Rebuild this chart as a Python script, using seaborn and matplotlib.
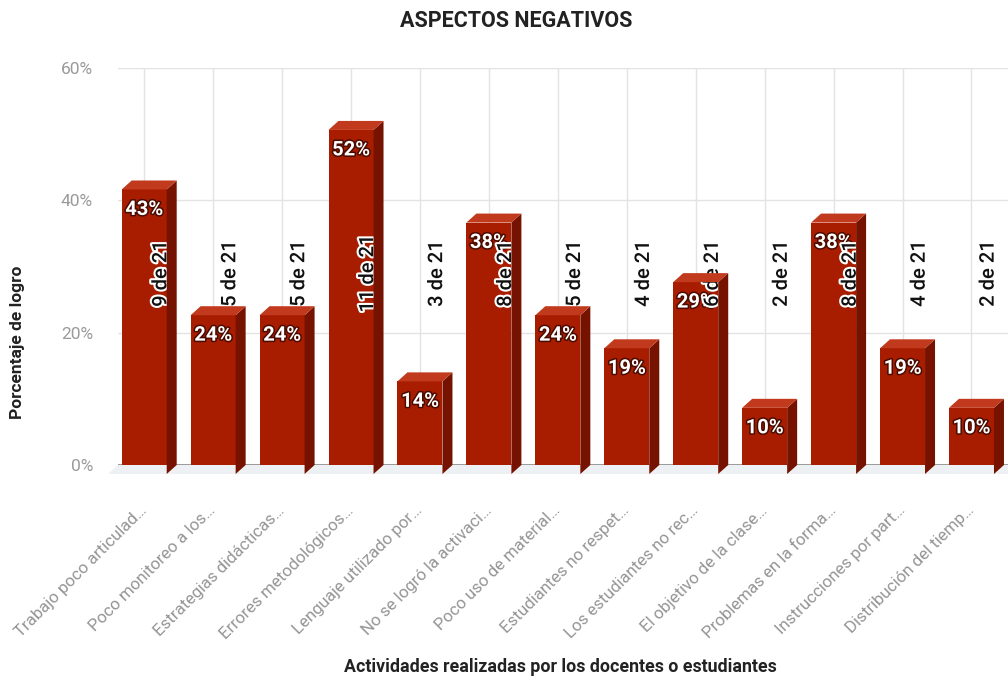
import numpy as np
import pandas as pd
import matplotlib
matplotlib.use("Agg")
import matplotlib.pyplot as plt
import seaborn as sns
from matplotlib.patches import Polygon
from matplotlib.transforms import ScaledTranslation, IdentityTransform
import matplotlib.patheffects as pe

categories = [
    "Trabajo poco articulad…",
    "Poco monitoreo a los…",
    "Estrategias didácticas…",
    "Errores metodológicos…",
    "Lenguaje utilizado por…",
    "No se logró la activaci…",
    "Poco uso de material…",
    "Estudiantes no respet…",
    "Los estudiantes no rec…",
    "El objetivo de la clase…",
    "Problemas en la forma…",
    "Instrucciones por part…",
    "Distribución del tiemp…",
]
percentages = [43, 24, 24, 52, 14, 38, 24, 19, 29, 10, 38, 19, 10]
counts = [9, 5, 5, 11, 3, 8, 5, 4, 6, 2, 8, 4, 2]
total = 21

title = "ASPECTOS NEGATIVOS"
xlabel = "Actividades realizadas por los docentes o estudiantes"
ylabel = "Porcentaje de logro"

FRONT = "#a81c00"
SIDE = "#761200"
TOP = "#c23a1e"

sns.set_theme(style="white")
plt.rcParams["font.family"] = ["Roboto", "DejaVu Sans"]

W, H = 1008, 677
fig = plt.figure(figsize=(W / 100, H / 100), dpi=100)
ax = fig.add_axes([118 / W, 1 - 465 / H, (1008 - 118) / W, (465 - 68) / H])

df = pd.DataFrame({"cat": categories, "pct": percentages})
sns.barplot(data=df, x="cat", y="pct", color=FRONT, saturation=1, width=0.653, ax=ax, zorder=3)

ax.set_xlim(-0.38, 12.53)
ax.set_ylim(0, 60)

DX, DY = 10, 9  # depth in pixels (to back plane: +DX right, +DY up)

shift = ScaledTranslation(0, -DY / 100, fig.dpi_scale_trans)
fig.canvas.draw()
for p in ax.patches:
    p.set_edgecolor("none")
    x0, y0 = p.get_x(), p.get_y()
    w, h = p.get_width(), p.get_height()
    (fx0, fy0) = ax.transData.transform((x0, y0))
    (fx1, fy1) = ax.transData.transform((x0 + w, y0 + h))
    fy0 -= DY
    fy1 -= DY
    p.set_transform(ax.transData + shift)
    side = Polygon([(fx1, fy0), (fx1 + DX, fy0 + DY), (fx1 + DX, fy1 + DY), (fx1, fy1)],
                   closed=True, facecolor=SIDE, edgecolor="none", transform=IdentityTransform(), zorder=3)
    top = Polygon([(fx0, fy1), (fx1, fy1), (fx1 + DX, fy1 + DY), (fx0 + DX, fy1 + DY)],
                  closed=True, facecolor=TOP, edgecolor="none", transform=IdentityTransform(), zorder=3)
    fig.add_artist(side)
    fig.add_artist(top)

(lx, ly) = ax.transData.transform((-0.38, 0))
(rx, ry) = ax.transData.transform((12.53, 0))
floor = Polygon([(lx - DX, ly - DY), (rx, ry - DY), (rx, ry), (lx, ly)], closed=True,
                facecolor="#eef1f4", edgecolor="none", transform=IdentityTransform(), zorder=1)
fig.add_artist(floor)

ax.set_yticks([0, 20, 40, 60])
ax.set_yticklabels(["0%", "20%", "40%", "60%"])
ax.grid(True, axis="both", color="#e3e3e3", linewidth=1, zorder=0)
ax.set_axisbelow(True)
ax.axhline(0, color="#8a8a8a", linewidth=1.2, zorder=2)
for s in ax.spines.values():
    s.set_visible(False)

ax.tick_params(axis="y", length=0, pad=18, labelsize=12.5, labelcolor="#9a9a9a")
ax.tick_params(axis="x", length=0, pad=31, labelsize=12.2, labelcolor="#959595")
for lab in ax.get_xticklabels():
    lab.set_rotation(45)
    lab.set_ha("right")
    lab.set_va("center")
    lab.set_rotation_mode("anchor")

ax.set_xlabel("")
ax.set_ylabel(ylabel, fontsize=12.5, fontweight="bold", color="#222222")
ax.yaxis.set_label_coords(-0.105, 0.31)

for i, (v, c) in enumerate(zip(percentages, counts)):
    ax.annotate(f"{v}%", xy=(i, v), xytext=(0, -14), textcoords="offset points",
                ha="center", va="top", fontsize=14.5, fontweight="bold", color="white", zorder=6,
                path_effects=[pe.withStroke(linewidth=2.2, foreground="#4a0c00")])
    ax.annotate(f"{c} de {total}", xy=(i, 28.9), xytext=(12, 0), textcoords="offset points",
                ha="center", va="center", rotation=90, fontsize=14.5, fontweight="medium",
                color="#111111", zorder=7,
                path_effects=[pe.withStroke(linewidth=3, foreground="white")])

fig.text(516 / W, 1 - 21 / H, title, ha="center", va="center", fontsize=15.5, fontweight="bold", color="#222222")
fig.text(560 / W, 1 - 667 / H, xlabel, ha="center", va="center", fontsize=12.8, fontweight="bold", color="#222222")

fig.savefig("out.png", dpi=100)
